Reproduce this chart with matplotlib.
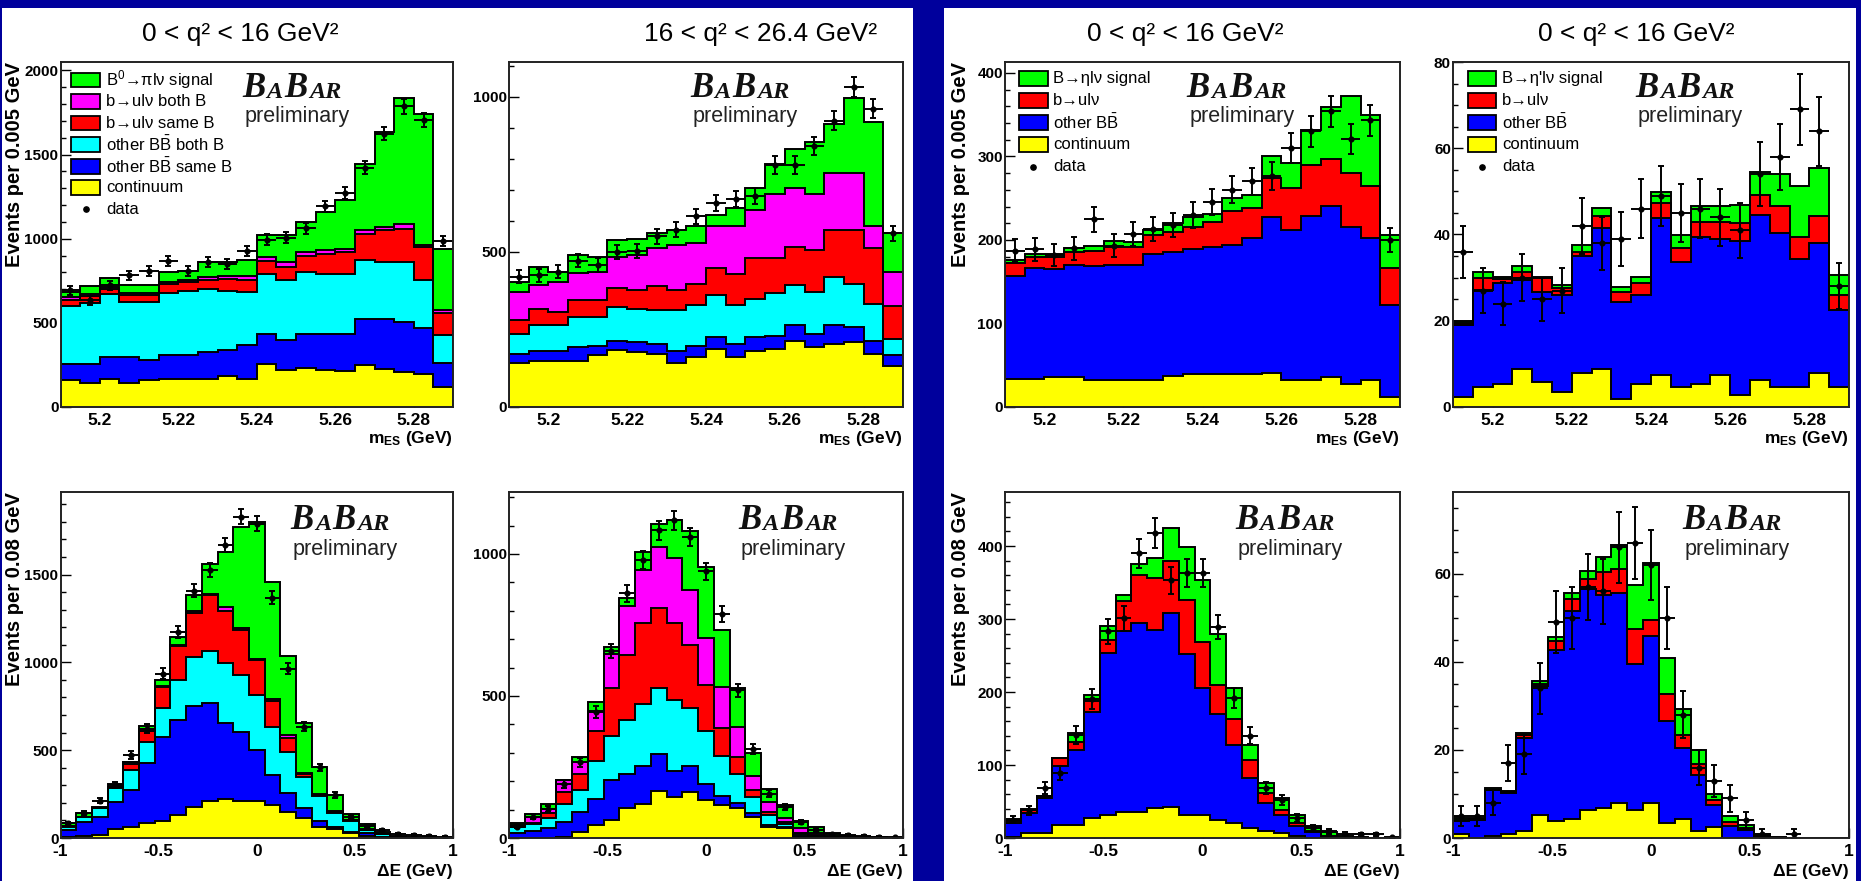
import numpy as np
import matplotlib.pyplot as plt
from matplotlib.patches import Rectangle
from matplotlib.ticker import MultipleLocator

plt.rcParams['font.family'] = ['Liberation Sans', 'DejaVu Sans']
plt.rcParams['mathtext.fontset'] = 'custom'
plt.rcParams['mathtext.rm'] = 'Liberation Sans'
plt.rcParams['mathtext.it'] = 'Liberation Sans:italic'
plt.rcParams['mathtext.bf'] = 'Liberation Sans:bold'

W, H = 1861, 881

mes_edges = np.linspace(5.19, 5.29, 21)
de_edges = np.linspace(-1.0, 1.0, 26)
mes_ticks = [5.2, 5.22, 5.24, 5.26, 5.28]
mes_ticklabels = ['5.2', '5.22', '5.24', '5.26', '5.28']
de_ticks = [-1, -0.5, 0, 0.5, 1]
de_ticklabels = ['-1', '-0.5', '0', '0.5', '1']

# stacked tops, bottom layer first
# B0 -> pi l nu, 0 < q2 < 16, mES
pi_mes_cont = [158, 143, 168, 143, 158, 168, 168, 168, 182, 168, 253, 222, 232, 222, 214, 251, 228, 208, 194, 119]
pi_mes_bb_same = [253, 253, 297, 297, 281, 307, 307, 327, 341, 366, 436, 400, 436, 436, 436, 521, 521, 505, 471, 261]
pi_mes_bb_both = [598, 618, 673, 624, 624, 677, 689, 703, 689, 683, 788, 756, 802, 788, 788, 871, 861, 861, 756, 430]
pi_mes_bu_same = [634, 657, 703, 663, 663, 729, 743, 756, 762, 756, 867, 832, 895, 907, 921, 1030, 1049, 1057, 950, 558]
pi_mes_bu_both = [653, 673, 713, 677, 677, 743, 756, 772, 776, 776, 891, 861, 921, 935, 941, 1049, 1069, 1089, 960, 574]
pi_mes_total = [683, 717, 766, 723, 727, 802, 808, 861, 861, 871, 1020, 1020, 1099, 1158, 1228, 1445, 1637, 1837, 1742, 941]
pi_mes_data = [693, 634, 723, 782, 808, 865, 808, 861, 851, 927, 994, 1006, 1063, 1192, 1271, 1422, 1624, 1786, 1703, 986]

# B0 -> pi l nu, 16 < q2 < 26.4, mES
pih_mes_cont = [141, 149, 149, 149, 166, 184, 176, 171, 141, 162, 187, 162, 182, 187, 214, 193, 203, 209, 171, 133]
pih_mes_bb_same = [171, 182, 182, 193, 198, 214, 209, 203, 182, 198, 225, 203, 225, 230, 263, 236, 263, 258, 214, 166]
pih_mes_bb_both = [236, 263, 263, 290, 290, 322, 317, 314, 312, 328, 360, 328, 349, 366, 393, 371, 420, 398, 333, 220]
pih_mes_bu_same = [281, 317, 306, 344, 344, 382, 377, 390, 377, 398, 447, 428, 479, 479, 517, 506, 571, 571, 512, 325]
pih_mes_bu_both = [371, 393, 404, 431, 436, 485, 490, 512, 523, 530, 582, 582, 636, 685, 707, 685, 755, 755, 582, 436]
pih_mes_total = [404, 452, 436, 490, 483, 537, 541, 560, 571, 584, 620, 642, 707, 784, 833, 853, 912, 995, 920, 560]
pih_mes_data = [420, 425, 436, 472, 458, 501, 504, 550, 571, 615, 658, 671, 680, 780, 780, 842, 923, 1031, 961, 560]

# B -> eta l nu, mES
eta_mes_cont = [34, 34, 36, 36, 32, 32, 32, 32, 37, 39, 39, 39, 39, 41, 32, 32, 36, 28, 32, 12]
eta_mes_bb = [157, 166, 165, 170, 169, 170, 170, 183, 185, 189, 191, 194, 202, 227, 212, 229, 241, 215, 202, 122]
eta_mes_bu = [172, 180, 180, 186, 187, 192, 192, 206, 210, 216, 221, 235, 238, 274, 262, 290, 297, 280, 264, 166]
eta_mes_total = [176, 183, 183, 190, 193, 199, 197, 212, 220, 228, 231, 250, 254, 300, 292, 331, 359, 372, 350, 206]
eta_mes_data = [187, 189, 182, 190, 225, 193, 207, 213, 218, 230, 245, 260, 270, 277, 310, 330, 354, 321, 343, 200]

# B -> eta' l nu, mES
etap_mes_cont = [2.3, 4.7, 5.4, 8.9, 5.8, 3.5, 7.8, 8.9, 1.9, 5.4, 7.4, 4.7, 5.4, 7.4, 2.7, 6.2, 4.7, 4.7, 7.9, 4.7]
etap_mes_bb = [19.0, 27.1, 28.7, 29.5, 26.7, 26.0, 34.9, 41.5, 24.4, 26.0, 43.8, 33.7, 39.4, 38.9, 38.6, 44.6, 40.3, 34.3, 38.0, 22.6]
etap_mes_bu = [19.4, 29.8, 29.6, 31.4, 29.8, 27.7, 36.0, 44.3, 26.7, 28.7, 47.3, 36.8, 43.0, 43.0, 42.6, 49.2, 46.7, 39.5, 44.2, 26.0]
etap_mes_total = [20.0, 31.2, 30.2, 32.6, 30.2, 28.3, 37.6, 46.1, 27.9, 30.2, 49.8, 39.9, 46.5, 46.5, 46.9, 54.6, 54.1, 51.2, 55.4, 30.6]
etap_mes_data = [36, 27, 24, 30, 25, 27, 42, 38, 39, 46, 49, 45, 46, 44, 41, 54, 58, 69, 64, 28]

# B0 -> pi l nu, 0 < q2 < 16, Delta E
pi_de_cont = [8, 11, 15, 49, 64, 87, 98, 131, 178, 212, 220, 212, 212, 188, 150, 112, 64, 49, 30, 11, 0, 0, 0, 0, 0]
pi_de_bb_same = [45, 93, 121, 206, 273, 428, 576, 670, 750, 769, 655, 604, 502, 358, 258, 169, 98, 64, 36, 27, 8, 3, 0, 0, 0]
pi_de_bb_both = [64, 117, 169, 282, 390, 547, 742, 902, 1030, 1064, 996, 926, 817, 633, 491, 345, 239, 144, 98, 45, 20, 6, 2, 0, 0]
pi_de_bu_same = [66, 119, 171, 290, 424, 610, 860, 1091, 1280, 1386, 1292, 1186, 1011, 780, 572, 364, 244, 150, 102, 48, 22, 7, 2, 0, 0]
pi_de_bu_both = [68, 121, 173, 292, 430, 618, 868, 1098, 1290, 1392, 1314, 1196, 1020, 790, 585, 370, 248, 153, 104, 50, 23, 7, 2, 0, 0]
pi_de_total = [83, 144, 178, 307, 434, 636, 898, 1144, 1381, 1561, 1627, 1773, 1800, 1456, 1034, 652, 405, 244, 136, 80, 36, 12, 6, 3, 2]
pi_de_data = [83, 140, 212, 301, 472, 623, 936, 1172, 1409, 1527, 1670, 1830, 1790, 1367, 964, 633, 402, 244, 120, 70, 45, 23, 17, 11, 8]

# B0 -> pi l nu, 16 < q2 < 26.4, Delta E
pih_de_cont = [0, 0, 0, 5, 22, 45, 65, 104, 119, 166, 145, 162, 135, 115, 104, 75, 37, 35, 0, 0, 0, 0, 0, 0, 0]
pih_de_bb_same = [16, 26, 34, 57, 92, 139, 203, 224, 252, 294, 235, 252, 189, 147, 124, 89, 45, 40, 7, 4, 1, 0, 0, 0, 0]
pih_de_bb_both = [40, 51, 69, 121, 168, 270, 360, 414, 473, 529, 485, 459, 378, 287, 226, 145, 80, 48, 14, 8, 3, 1, 0, 0, 0]
pih_de_bu_same = [42, 54, 88, 162, 226, 375, 529, 643, 757, 811, 757, 678, 538, 387, 284, 170, 92, 55, 18, 10, 3, 1, 0, 0, 0]
pih_de_bu_both = [45, 75, 103, 203, 267, 448, 646, 815, 943, 1025, 986, 873, 704, 531, 389, 220, 127, 70, 35, 18, 7, 2, 0, 0, 0]
pih_de_total = [54, 83, 119, 205, 284, 477, 671, 846, 1007, 1106, 1121, 1082, 955, 733, 529, 298, 174, 115, 61, 40, 19, 7, 4, 2, 1]
pih_de_data = [40, 75, 103, 191, 267, 445, 659, 861, 978, 1083, 1118, 1060, 939, 788, 520, 314, 156, 110, 57, 28, 14, 10, 7, 5, 3]

# B -> eta l nu, Delta E
eta_de_cont = [1, 7, 7, 18, 18, 27, 32, 35, 35, 41, 43, 32, 32, 24, 21, 14, 10, 7, 3, 0, 0, 0, 0, 0, 0]
eta_de_bb = [21, 34, 55, 99, 120, 173, 254, 284, 295, 285, 308, 252, 205, 170, 128, 82, 48, 32, 17, 8, 2, 0, 0, 0, 0]
eta_de_bu = [23, 39, 57, 109, 132, 187, 271, 324, 360, 356, 380, 326, 269, 210, 163, 107, 62, 39, 21, 9, 3, 0, 0, 0, 0]
eta_de_total = [26, 40, 58, 109, 144, 196, 290, 333, 375, 383, 424, 399, 353, 280, 205, 128, 76, 55, 31, 16, 8, 3, 1, 0, 0]
eta_de_data = [25, 38, 68, 89, 141, 190, 283, 301, 390, 418, 353, 363, 363, 289, 192, 140, 68, 52, 27, 14, 9, 6, 5, 5, 1]

# B -> eta' l nu, Delta E
etap_de_cont = [0.8, 0, 0.4, 0.8, 1.5, 5.3, 3.8, 4.3, 6.4, 6.8, 8.0, 6.4, 8.0, 3.4, 4.3, 1.5, 2.5, 0, 0, 0, 0, 0, 0, 0, 0]
etap_de_bb = [3.8, 4.2, 11.0, 10.2, 22.7, 34.5, 42.8, 51.5, 56.6, 55.1, 55.7, 39.6, 45.9, 26.5, 20.5, 14.4, 7.4, 2.7, 1.9, 0.5, 0, 0, 0, 0, 0]
etap_de_bu = [4.2, 4.3, 11.0, 10.4, 23.3, 34.9, 44.7, 54.2, 58.9, 60.4, 61.2, 47.4, 49.6, 32.6, 23.5, 16.7, 8.6, 3.6, 2.3, 0.5, 0, 0, 0, 0, 0]
etap_de_total = [4.5, 4.5, 11.4, 10.6, 23.9, 35.6, 45.7, 55.6, 60.6, 63.9, 66.5, 57.4, 62.4, 40.9, 29.2, 20.1, 10.1, 5.1, 3.0, 0.8, 0.2, 0, 0, 0, 0]
etap_de_data = [5, 5, 8, 17, 19, 34, 49, 50, 57, 56, 66, 67, 62, 50, 28, 16, 13, 9, 4, 1, 0, 1, 0, 0, 0]

pi_labels = ['B$^{0}$→πlν signal', 'b→ulν both B', 'b→ulν same B',
             r'other B$\bar{\mathrm{B}}$ both B', r'other B$\bar{\mathrm{B}}$ same B',
             'continuum', 'data']
eta_labels = ['B→ηlν signal', 'b→ulν', r'other B$\bar{\mathrm{B}}$', 'continuum', 'data']
etap_labels = ["B→η'lν signal", 'b→ulν', r'other B$\bar{\mathrm{B}}$', 'continuum', 'data']

GREEN, MAG, RED, CYAN, BLUE, YEL = '#00ff00', '#ff00ff', '#ff0000', '#00ffff', '#0000ff', '#ffff00'
pi_colors = [YEL, BLUE, CYAN, RED, MAG, GREEN]
eta_colors = [YEL, BLUE, RED, GREEN]

fig = plt.figure(figsize=(W / 100, H / 100), dpi=100, facecolor='#00009c')
fig.add_artist(Rectangle((2 / W, 0), 911 / W, 1 - 8 / H, transform=fig.transFigure,
                         facecolor='white', edgecolor='none', zorder=-1))
fig.add_artist(Rectangle((944 / W, 0), 912 / W, 1 - 8 / H, transform=fig.transFigure,
                         facecolor='white', edgecolor='none', zorder=-1))


def make_ax(left, top, w, h):
    return fig.add_axes([left / W, 1 - (top + h) / H, w / W, h / H])


def draw_stack(ax, edges, layers, colors, data):
    for vals, c in reversed(list(zip(layers, colors))):
        ax.stairs(vals, edges, fill=True, color=c, zorder=1)
        ax.stairs(vals, edges, color='black', lw=1.4, zorder=1.2)
    d = np.array(data, dtype=float)
    centers = 0.5 * (edges[1:] + edges[:-1])
    half = 0.5 * (edges[1] - edges[0])
    m = d > 0
    ax.errorbar(centers[m], d[m], yerr=np.sqrt(d[m]), fmt='o', ms=3.4, color='black',
                elinewidth=1.4, capsize=2.3, capthick=1.4, zorder=3)
    ax.errorbar(centers[m], d[m], xerr=half, fmt='none', ecolor='black',
                elinewidth=1.4, capsize=0, zorder=3)


def style(ax, edges, xt, xtl, ymax, ymaj, ymin):
    ax.set_xlim(edges[0], edges[-1])
    ax.set_ylim(0, ymax)
    ax.set_axisbelow(True)
    ax.set_xticks(xt)
    ax.set_xticklabels(xtl, fontweight='bold', fontsize=12.5)
    yt = np.arange(0, ymax + 1e-9, ymaj)
    ax.set_yticks(yt)
    ax.set_yticklabels([str(int(round(v))) for v in yt], fontweight='bold', fontsize=11)
    ax.yaxis.set_minor_locator(MultipleLocator(ymin))
    ax.tick_params(which='both', direction='in', top=False, right=False, color='black')
    ax.tick_params(which='major', length=7, width=1)
    ax.tick_params(which='minor', length=3.5, width=1)
    ax.tick_params(axis='x', pad=4)
    ax.tick_params(axis='y', pad=1.5)
    for s in ax.spines.values():
        s.set_linewidth(1.4)
        s.set_color('#222222')
        s.set_zorder(4)


def legend(ax, x0, y0, dy, labels, colors, tx, bw=0.072, bh=0.043):
    for i, (lab, c) in enumerate(zip(labels, colors)):
        y = y0 - i * dy
        if c is None:
            ax.plot([x0 + bw / 2], [y], 'o', color='black', ms=3.8, transform=ax.transAxes, zorder=5)
        else:
            ax.add_patch(Rectangle((x0, y - bh / 2), bw, bh, transform=ax.transAxes,
                                   facecolor=c, edgecolor='black', lw=1.3, zorder=5))
        ax.text(tx, y, lab, transform=ax.transAxes, fontsize=12, va='center', ha='left', zorder=5)


def babar(ax, x, y, yp):
    kw = dict(family='Liberation Serif', weight='bold', style='italic', color='#111111')
    big, small = 25, 17.5
    d = 0.217 * (big - small)
    prev = ax.text(x, y, 'B', transform=ax.transAxes, fontsize=big, va='baseline', **kw)
    for s, fs, off in [('A', small, d), ('B', big, -d), ('AR', small, d)]:
        prev = ax.annotate(s, xy=(1, 0), xycoords=prev, xytext=(1.2, off),
                           textcoords='offset points', fontsize=fs, va='bottom', ha='left', **kw)
    ax.text(x + 0.006, yp, 'preliminary', transform=ax.transAxes, fontsize=15.5,
            va='baseline', color='#222222')


def xlabel(ax, text, y):
    ax.text(1.0, y, text, transform=ax.transAxes, ha='right', va='center',
            fontsize=12.5, fontweight='bold')


def ylabel(ax, text, x):
    ax.text(x, 1.0, text, transform=ax.transAxes, ha='center', va='top', rotation=90,
            fontsize=14.5, fontweight='bold')


cols = [(60.5, 392.5), (509, 394), (1005, 395), (1453, 396)]
mes_label = r'm$_{\mathbf{ES}}$ (GeV)'
de_label = 'ΔE (GeV)'

# ---- top row: mES ----
ax = make_ax(cols[0][0], 62, cols[0][1], 345)
draw_stack(ax, mes_edges, [pi_mes_cont, pi_mes_bb_same, pi_mes_bb_both, pi_mes_bu_same,
                           pi_mes_bu_both, pi_mes_total], pi_colors, pi_mes_data)
style(ax, mes_edges, mes_ticks, mes_ticklabels, 2050, 500, 100)
legend(ax, 0.028, 0.948, 0.0625, pi_labels, [GREEN, MAG, RED, CYAN, BLUE, YEL, None], 0.117)
babar(ax, 0.462, 0.899, 0.826)
xlabel(ax, mes_label, -0.09)
ylabel(ax, 'Events per 0.005 GeV', -0.118)

ax = make_ax(cols[1][0], 62, cols[1][1], 345)
draw_stack(ax, mes_edges, [pih_mes_cont, pih_mes_bb_same, pih_mes_bb_both, pih_mes_bu_same,
                           pih_mes_bu_both, pih_mes_total], pi_colors, pih_mes_data)
style(ax, mes_edges, mes_ticks, mes_ticklabels, 1112, 500, 100)
babar(ax, 0.459, 0.899, 0.826)
xlabel(ax, mes_label, -0.09)

ax = make_ax(cols[2][0], 62, cols[2][1], 345)
draw_stack(ax, mes_edges, [eta_mes_cont, eta_mes_bb, eta_mes_bu, eta_mes_total],
           eta_colors, eta_mes_data)
style(ax, mes_edges, mes_ticks, mes_ticklabels, 413, 100, 20)
legend(ax, 0.035, 0.952, 0.064, eta_labels, [GREEN, RED, BLUE, YEL, None], 0.1215, bw=0.0734)
babar(ax, 0.46, 0.899, 0.826)
xlabel(ax, mes_label, -0.09)
ylabel(ax, 'Events per 0.005 GeV', -0.112)

ax = make_ax(cols[3][0], 62, cols[3][1], 345)
draw_stack(ax, mes_edges, [etap_mes_cont, etap_mes_bb, etap_mes_bu, etap_mes_total],
           eta_colors, etap_mes_data)
style(ax, mes_edges, mes_ticks, mes_ticklabels, 80, 20, 5)
legend(ax, 0.038, 0.952, 0.064, etap_labels, [GREEN, RED, BLUE, YEL, None], 0.124, bw=0.0707)
babar(ax, 0.46, 0.899, 0.826)
xlabel(ax, mes_label, -0.09)

# ---- bottom row: Delta E ----
ax = make_ax(cols[0][0], 492, cols[0][1], 346)
draw_stack(ax, de_edges, [pi_de_cont, pi_de_bb_same, pi_de_bb_both, pi_de_bu_same,
                          pi_de_bu_both, pi_de_total], pi_colors, pi_de_data)
style(ax, de_edges, de_ticks, de_ticklabels, 1970, 500, 100)
babar(ax, 0.585, 0.893, 0.818)
xlabel(ax, de_label, -0.098)
ylabel(ax, 'Events per 0.08 GeV', -0.118)

ax = make_ax(cols[1][0], 492, cols[1][1], 346)
draw_stack(ax, de_edges, [pih_de_cont, pih_de_bb_same, pih_de_bb_both, pih_de_bu_same,
                          pih_de_bu_both, pih_de_total], pi_colors, pih_de_data)
style(ax, de_edges, de_ticks, de_ticklabels, 1218, 500, 100)
babar(ax, 0.581, 0.893, 0.818)
xlabel(ax, de_label, -0.098)

ax = make_ax(cols[2][0], 492, cols[2][1], 346)
draw_stack(ax, de_edges, [eta_de_cont, eta_de_bb, eta_de_bu, eta_de_total],
           eta_colors, eta_de_data)
style(ax, de_edges, de_ticks, de_ticklabels, 474, 100, 20)
babar(ax, 0.582, 0.893, 0.818)
xlabel(ax, de_label, -0.098)
ylabel(ax, 'Events per 0.08 GeV', -0.112)

ax = make_ax(cols[3][0], 492, cols[3][1], 346)
draw_stack(ax, de_edges, [etap_de_cont, etap_de_bb, etap_de_bu, etap_de_total],
           eta_colors, etap_de_data)
style(ax, de_edges, de_ticks, de_ticklabels, 78.6, 20, 5)
babar(ax, 0.578, 0.893, 0.818)
xlabel(ax, de_label, -0.098)

# ---- column titles ----
titles = ['0 < q² < 16 GeV²', '16 < q² < 26.4 GeV²', '0 < q² < 16 GeV²', '0 < q² < 16 GeV²']
title_x = [240, 761, 1185, 1636]
for t, x in zip(titles, title_x):
    fig.text(x / W, 1 - 34 / H, t, ha='center', va='center', fontsize=19)

fig.savefig('out.png', dpi=100, facecolor=fig.get_facecolor())
